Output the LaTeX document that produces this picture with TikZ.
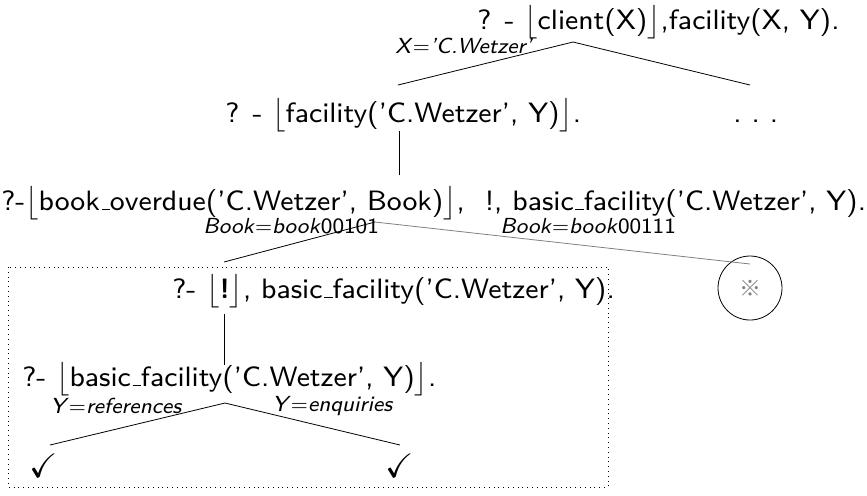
\documentclass[tikz,border=0pt]{standalone}
\usepackage{amsmath,amssymb}
\usepackage{fontspec}
\newfontfamily\treefont{lmsans8-regular.otf}[Ligatures=TeX,
    ItalicFont=lmsans8-oblique.otf, BoldFont=lmsans10-bold.otf]
\newfontfamily\cjkfont{Noto Sans CJK SC}
\newcommand{\usc}{\leavevmode\kern.06em\vbox{\hrule width.3em}}
\usepackage{tikz}

\begin{document}
\begin{tikzpicture}[x=0.5pt,y=-0.5pt,
                goal/.style={font=\fontsize{14}{17}\selectfont\treefont,inner sep=0pt,anchor=base west},
                lbl/.style={font=\fontsize{10.9}{13}\selectfont\treefont,inner sep=0pt,anchor=base west},
                fail/.style={circle,draw=black,minimum size=32pt,inner sep=0pt},
                tick/.style={font=\fontsize{17}{20}\selectfont,inner sep=0pt}
            ]
                \useasboundingbox (0,0) rectangle (867,495);
                % goals
                \node[goal] (g1) at (477,29) {? - $\big\lfloor$client(X)$\big\rfloor$,facility(X, Y).};
                \node[goal] (g2) at (225,122) {? - $\big\lfloor$facility('C.Wetzer', Y)$\big\rfloor$.};
                \node[goal] (dots) at (733,122) {.\ .\ .};
                \node[goal] (g3) at (1,210) {?-$\big\lfloor$book\usc overdue('C.Wetzer', Book)$\big\rfloor$,\ \ !, basic\usc facility('C.Wetzer', Y).};
                \node[goal] (g4) at (172,298) {?- $\big\lfloor$\textbf{!}$\big\rfloor$, basic\usc facility('C.Wetzer', Y).};
                \node[goal] (g5) at (22,386) {?- $\big\lfloor$basic\usc facility('C.Wetzer', Y)$\big\rfloor$.};
                \node[tick] (ok1) at (44,466) {$\checkmark$};
                \node[tick] (ok2) at (400,466) {$\checkmark$};
                \node[fail] (no) at (750,288) {\textcolor{gray}{\cjkfont\fontsize{11}{13}\selectfont ※}};

                \coordinate (a1) at (573,42);
                \coordinate (c1) at (398,85);
                \coordinate (c2) at (750,85);
                \coordinate (a2) at (399,131);
                \coordinate (c3) at (399,175);
                \coordinate (a3) at (375,222);
                \coordinate (c4) at (224,262);
                \coordinate (c5) at (750,264);
                \coordinate (a4) at (224,314);
                \coordinate (c6) at (224,365);
                \coordinate (a5) at (225,403);
                \coordinate (c7) at (50,445);
                \coordinate (c8) at (400,445);

                \draw (a1) -- (c1);
                \draw (a1) -- (c2);
                \draw (a2) -- (c3);
                \draw (a3) -- (c4);
                \draw[gray] (a3) -- (c5);
                \draw (a4) -- (c6);
                \draw (a5) -- (c7);
                \draw (a5) -- (c8);

                % substitutions
                \node[lbl] (s1) at (395,53) {\textit{X}$=$\textit{'C.Wetzer'}};
                \node[lbl] (s2) at (203,233) {\textit{Book}$=$\textit{book}00101};
                \node[lbl] (s3) at (500,233) {\textit{Book}$=$\textit{book}00111};
                \node[lbl] (s4) at (50,413) {\textit{Y}$=$\textit{references}};
                \node[lbl] (s5) at (272,411) {\textit{Y}$=$\textit{enquiries}};

                \draw[dotted] (8,267) rectangle (608,487);

            \end{tikzpicture}
\end{document}
